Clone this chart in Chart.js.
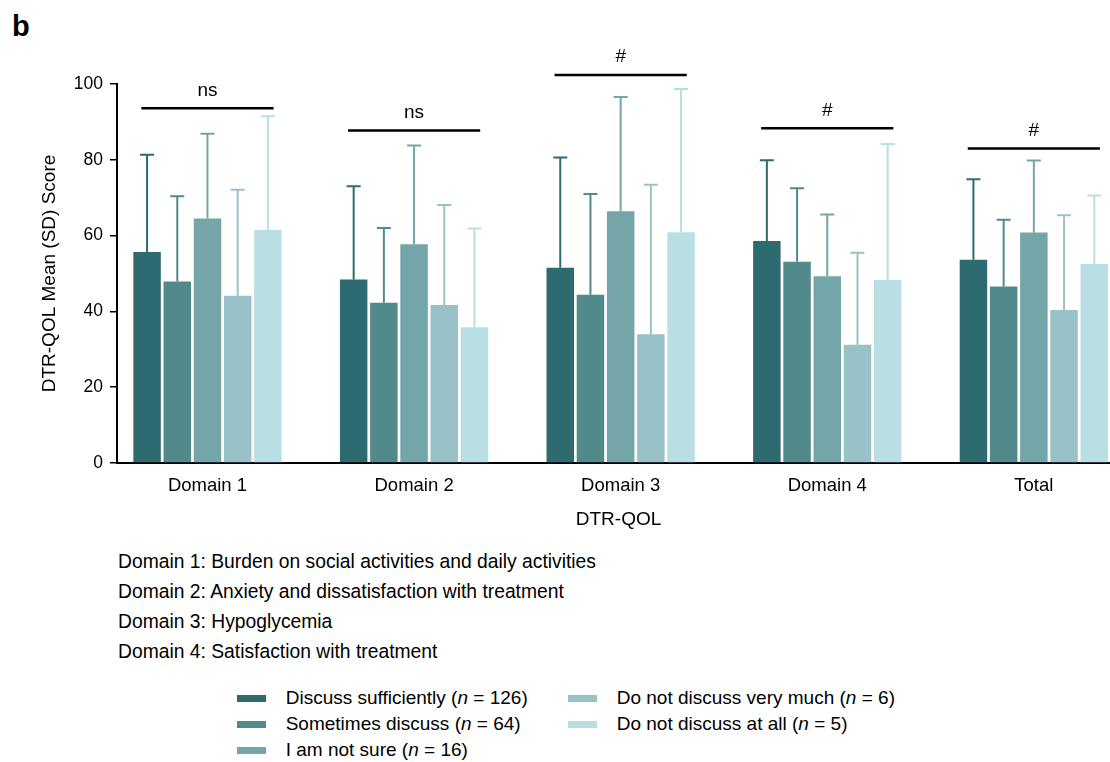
<!DOCTYPE html>
<html><head><meta charset="utf-8">
<script src="https://cdn.jsdelivr.net/npm/chart.js@4/dist/chart.umd.min.js"></script>
<style>
html,body{margin:0;padding:0;background:#fff;width:1110px;height:762px;overflow:hidden;}
body{position:relative;font-family:"Liberation Sans",Arial,sans-serif;color:#000;}
#wrap{position:absolute;left:0;top:0;width:1120px;height:534px;}
#c{display:block;width:1120px;height:534px;}
#panel{position:absolute;left:12px;top:11.5px;font-weight:bold;font-size:29px;line-height:29px;}
#notes{position:absolute;left:118px;top:547px;font-size:19.3px;line-height:30px;white-space:nowrap;}
#legend{position:absolute;left:237px;top:685px;display:grid;grid-auto-flow:column;grid-template-rows:repeat(3,26px);grid-template-columns:331px auto;font-size:19px;line-height:26px;white-space:nowrap;}
.item{display:flex;align-items:center;}
.box{width:29px;height:7px;margin-right:19.7px;flex:none;}
</style></head>
<body>
<div id="panel">b</div>
<div id="wrap"><canvas id="c" width="1120" height="534"></canvas></div>
<div id="notes"></div>
<div id="legend"></div>
<script>
const categories = ['Domain 1', 'Domain 2', 'Domain 3', 'Domain 4', 'Total'];
const seriesNames = ['Discuss sufficiently', 'Sometimes discuss', 'I am not sure', 'Do not discuss very much', 'Do not discuss at all'];
const seriesN = [126, 64, 16, 6, 5];
const seriesColors = ['#2e6b70', '#52898b', '#74a6a9', '#98c2c7', '#b9dfe4'];

const meanSufficiently = [55.7, 48.4, 51.5, 58.6, 53.6];
const sdSufficiently   = [25.6, 24.6, 29.1, 21.3, 21.3];
const meanSometimes    = [47.9, 42.3, 44.4, 53.1, 46.6];
const sdSometimes      = [22.5, 19.7, 26.6, 19.4, 17.6];
const meanNotSure      = [64.5, 57.7, 66.4, 49.3, 60.8];
const sdNotSure        = [22.4, 26.1, 30.2, 16.3, 19.0];
const meanNotVeryMuch  = [44.1, 41.7, 34.0, 31.2, 40.4];
const sdNotVeryMuch    = [28.0, 26.4, 39.4, 24.3, 25.0];
const meanNotAtAll     = [61.5, 35.8, 60.9, 48.3, 52.5];
const sdNotAtAll       = [30.0, 26.1, 37.8, 35.9, 18.1];

const bracketLevels = [93.6, 87.7, 102.4, 88.3, 83.0];
const bracketLabels = ['ns', 'ns', '#', '#', '#'];

const footnotes = [
  'Domain 1: Burden on social activities and daily activities',
  'Domain 2: Anxiety and dissatisfaction with treatment',
  'Domain 3: Hypoglycemia',
  'Domain 4: Satisfaction with treatment'
];

const seriesMeans = [meanSufficiently, meanSometimes, meanNotSure, meanNotVeryMuch, meanNotAtAll];
const seriesSDs = [sdSufficiently, sdSometimes, sdNotSure, sdNotVeryMuch, sdNotAtAll];

const FONT = '"Liberation Sans", Arial, sans-serif';
Chart.defaults.font.family = FONT;
Chart.defaults.color = '#000';

const errorBarPlugin = {
  id: 'errorBars',
  afterDatasetsDraw(chart) {
    const ctx = chart.ctx, ys = chart.scales.y;
    chart.data.datasets.forEach((ds, di) => {
      const meta = chart.getDatasetMeta(di);
      meta.data.forEach((bar, i) => {
        const base = ys.getPixelForValue(ds.data[i].y);
        const top = ys.getPixelForValue(ds.data[i].y + ds.sd[i]);
        ctx.save();
        ctx.strokeStyle = ds.backgroundColor;
        ctx.lineWidth = 2;
        ctx.beginPath();
        ctx.moveTo(bar.x, base);
        ctx.lineTo(bar.x, top);
        ctx.moveTo(bar.x - 7, top);
        ctx.lineTo(bar.x + 7, top);
        ctx.stroke();
        ctx.restore();
      });
    });
  }
};

const bracketPlugin = {
  id: 'brackets',
  afterDraw(chart) {
    const ctx = chart.ctx, xs = chart.scales.x, ys = chart.scales.y;
    categories.forEach((c, i) => {
      const x0 = xs.getPixelForValue(i - 0.32);
      const x1 = xs.getPixelForValue(i + 0.32);
      const yy = ys.getPixelForValue(bracketLevels[i]);
      ctx.save();
      ctx.strokeStyle = '#000';
      ctx.lineWidth = 2.5;
      ctx.beginPath();
      ctx.moveTo(x0, yy);
      ctx.lineTo(x1, yy);
      ctx.stroke();
      ctx.fillStyle = '#000';
      ctx.font = '19px ' + FONT;
      ctx.textAlign = 'center';
      ctx.textBaseline = 'alphabetic';
      ctx.fillText(bracketLabels[i], xs.getPixelForValue(i), yy - 12.5);
      ctx.restore();
    });
  }
};

const chart = new Chart(document.getElementById('c'), {
  type: 'bar',
  data: {
    datasets: seriesNames.map((name, k) => ({
      label: name,
      data: seriesMeans[k].map((v, i) => ({ x: i, y: v })),
      sd: seriesSDs[k],
      backgroundColor: seriesColors[k],
      borderWidth: 0,
      barPercentage: 0.91,
      categoryPercentage: 0.731
    }))
  },
  options: {
    responsive: false,
    animation: false,
    devicePixelRatio: 1,
    layout: { padding: { top: 84, left: 0, right: 0, bottom: 0 } },
    plugins: { legend: { display: false }, tooltip: { enabled: false } },
    scales: {
      x: {
        type: 'linear',
        offset: false,
        min: -0.438,
        max: 4.417,
        grid: { display: false, drawTicks: false, offset: false },
        border: { display: true, color: '#000', width: 2 },
        ticks: {
          stepSize: 1, includeBounds: false, autoSkip: false, maxRotation: 0,
          padding: 12, color: '#000', font: { size: 18.5 },
          callback: (v) => {
            const r = Math.round(v);
            return Math.abs(v - r) < 1e-6 && categories[r] !== undefined ? categories[r] : '';
          }
        },
        title: { display: true, text: 'DTR-QOL', color: '#000', font: { size: 19 }, padding: { top: 0, bottom: 3 } },
        afterFit(s) { s.height = 71; }
      },
      y: {
        min: 0, max: 100,
        ticks: { stepSize: 20, padding: 7, color: '#000', font: { size: 17.5 } },
        grid: { drawOnChartArea: false, drawTicks: true, tickLength: 7, color: '#000', lineWidth: 1.5 },
        border: { display: true, color: '#000', width: 2 },
        title: { display: true, text: 'DTR-QOL Mean (SD) Score', color: '#000', font: { size: 19 }, padding: { top: 38.6, bottom: 0 } },
        afterFit(s) { s.width = 117; }
      }
    }
  },
  plugins: [errorBarPlugin, bracketPlugin]
});

document.getElementById('notes').innerHTML = footnotes.map(t => '<div>' + t + '</div>').join('');

const legendEl = document.getElementById('legend');
chart.data.datasets.forEach((ds, k) => {
  const item = document.createElement('div');
  item.className = 'item';
  const box = document.createElement('span');
  box.className = 'box';
  box.style.background = ds.backgroundColor;
  const txt = document.createElement('span');
  txt.innerHTML = ds.label + ' (<i>n</i> = ' + seriesN[k] + ')';
  item.appendChild(box);
  item.appendChild(txt);
  legendEl.appendChild(item);
});
</script>
</body></html>
